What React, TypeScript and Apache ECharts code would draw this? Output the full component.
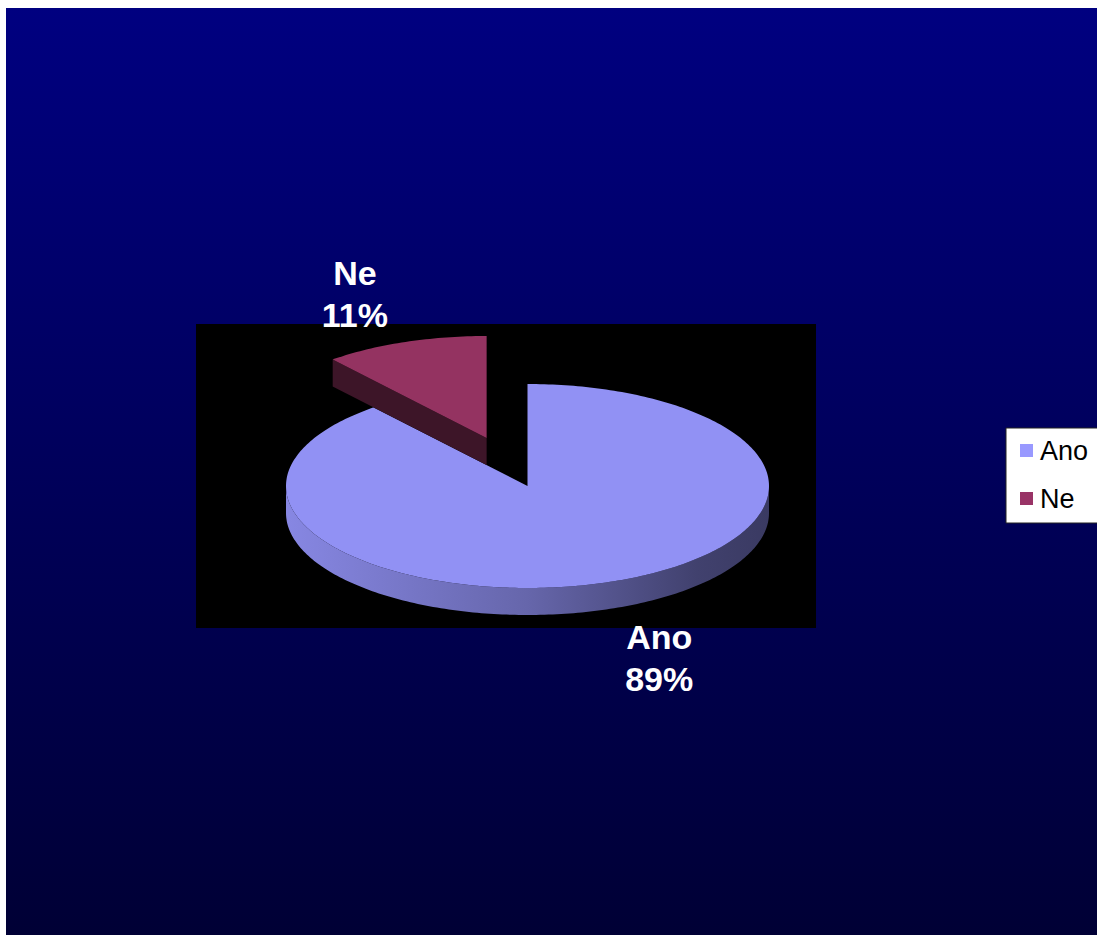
import React, { useEffect, useRef } from "react";
import * as echarts from "echarts";

// ---- data ----
const categories = ["Ano", "Ne"];
const values = [89, 11];

// ---- styling (kept separate from data) ----
const explodeFraction = [0, 0.5];
const topColors = ["#9191F4", "#943361"];
const legendColors = ["#9999FF", "#993366"];

const W = 1091;
const H = 927;
const CX = 521.5;
const CY = 478;
const RX = 241.5;
const RY = 102;
const DEPTH = 27;

function shade(hex: string, f: number): string {
  const n = parseInt(hex.slice(1), 16);
  const r = Math.round(((n >> 16) & 255) * f);
  const g = Math.round(((n >> 8) & 255) * f);
  const b = Math.round((n & 255) * f);
  return "rgb(" + r + "," + g + "," + b + ")";
}

function makeRenderItem(i: number) {
  return function () {
    const total = values.reduce((a, b) => a + b, 0);
    let before = 0;
    for (let j = 0; j < i; j++) before += values[j];
    const a0 = 90 - (before / total) * 360;
    const a1 = 90 - ((before + values[i]) / total) * 360;
    const midRad = (((a0 + a1) / 2) * Math.PI) / 180;
    const ex = explodeFraction[i];
    const cx = CX + ex * RX * Math.cos(midRad);
    const cy = CY - ex * RY * Math.sin(midRad);
    const pt = (deg: number, dy = 0): number[] => {
      const r = (deg * Math.PI) / 180;
      return [cx + RX * Math.cos(r), cy - RY * Math.sin(r) + dy];
    };
    const top = topColors[i];
    const children: any[] = [];

    // sample angles along the arc (clockwise: decreasing)
    const angles: number[] = [];
    for (let a = a0; a > a1; a -= 1) angles.push(a);
    angles.push(a1);

    // outer wall (front-facing part only)
    let run: number[] = [];
    const flush = () => {
      if (run.length >= 2) {
        const pts = run.map((a) => pt(a)).concat(run.slice().reverse().map((a) => pt(a, DEPTH)));
        children.push({
          type: "polygon",
          silent: true,
          shape: { points: pts },
          style: {
            fill: {
              type: "linear",
              x: cx - RX,
              y: 0,
              x2: cx + RX,
              y2: 0,
              global: true,
              colorStops: [
                { offset: 0, color: shade(top, 0.93) },
                { offset: 0.5, color: shade(top, 0.7) },
                { offset: 0.85, color: shade(top, 0.45) },
                { offset: 1, color: shade(top, 0.4) },
              ],
            },
          },
        });
      }
      run = [];
    };
    for (const a of angles) {
      if (Math.sin((a * Math.PI) / 180) <= 1e-9) run.push(a);
      else flush();
    }
    flush();

    // radial faces
    const radial = (a: number) => {
      const p = pt(a);
      children.push({
        type: "polygon",
        silent: true,
        shape: { points: [[cx, cy], p, [p[0], p[1] + DEPTH], [cx, cy + DEPTH]] },
        style: { fill: shade(top, 0.41) },
      });
    };
    if (Math.sin(((a0 + 90) * Math.PI) / 180) < -1e-6) radial(a0);
    if (Math.sin(((a1 - 90) * Math.PI) / 180) < -1e-6) radial(a1);

    // top face
    children.push({
      type: "polygon",
      silent: true,
      shape: { points: [[cx, cy]].concat(angles.map((a) => pt(a))) },
      style: { fill: top },
    });

    // label
    const lx = cx + Math.cos(midRad) * RX * 1.61;
    const ly = cy - Math.sin(midRad) * RY * 1.65 + DEPTH * 0.52;
    children.push({
      type: "text",
      silent: true,
      style: {
        text: categories[i] + "\n" + values[i] + "%",
        x: lx,
        y: ly,
        fill: "#ffffff",
        fontSize: 34,
        fontWeight: "bold",
        fontFamily: '"Liberation Sans", Arial, sans-serif',
        lineHeight: 42,
        align: "center",
        verticalAlign: "middle",
        textAlign: "center",
        textVerticalAlign: "middle",
      },
    });

    return { type: "group", children };
  };
}

export default function App() {
  const ref = useRef<HTMLDivElement>(null);
  useEffect(() => {
    if (!ref.current) return;
    const chart = echarts.init(ref.current, null, { renderer: "svg" });
    chart.setOption({
      animation: false,
      graphic: [
        {
          type: "rect",
          z: 0,
          silent: true,
          shape: { x: 0, y: 0, width: W, height: H },
          style: {
            fill: {
              type: "linear",
              x: 0,
              y: 0,
              x2: 0,
              y2: 1,
              colorStops: [
                { offset: 0, color: "#000080" },
                { offset: 1, color: "#000035" },
              ],
            },
          },
        },
        {
          type: "rect",
          z: 1,
          silent: true,
          shape: { x: 190, y: 316, width: 620, height: 304 },
          style: { fill: "#000000" },
        },
      ],
      legend: {
        orient: "vertical",
        left: 1000,
        top: 420,
        icon: "rect",
        itemWidth: 13,
        itemHeight: 13,
        itemGap: 21,
        padding: [9, 14, 11, 14],
        backgroundColor: "#ffffff",
        borderColor: "#222222",
        borderWidth: 1,
        selectedMode: false,
        data: categories,
        textStyle: {
          fontSize: 27,
          color: "#000000",
          fontFamily: '"Liberation Sans", Arial, sans-serif',
          padding: [0, 0, 0, 2],
        },
      },
      series: categories.map((name, i) => ({
        type: "custom",
        name,
        coordinateSystem: "none",
        z: 5 + i,
        itemStyle: { color: legendColors[i] },
        data: [[values[i]]],
        renderItem: makeRenderItem(i),
      })),
    });
    return () => chart.dispose();
  }, []);
  return (
    <div
      ref={ref}
      style={{ position: "absolute", left: 6, top: 8, width: W, height: H }}
    />
  );
}
